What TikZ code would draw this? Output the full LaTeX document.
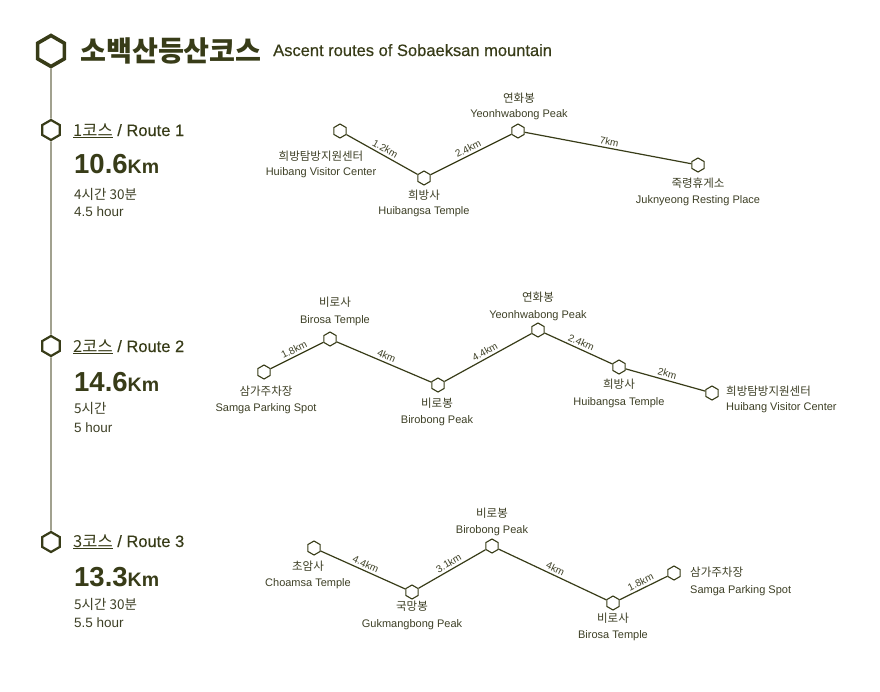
\documentclass[tikz,border=0pt]{standalone}
\usepackage{fontspec}
\setmainfont{Liberation Sans}
\newfontfamily\kr{Noto Sans CJK KR}
\newfontfamily\med[FakeBold=0.4]{Liberation Sans}
\usetikzlibrary{shapes.geometric}
\definecolor{ink}{RGB}{56,60,24}
\definecolor{txt}{RGB}{62,64,38}
\definecolor{vline}{RGB}{112,112,84}
\newcommand{\fs}[1]{\fontsize{#1}{#1}\selectfont}
\begin{document}
\begin{tikzpicture}[x=1pt,y=-1pt,
  hexbase/.style={regular polygon, regular polygon sides=6, rotate=30, inner sep=0pt, draw=ink, fill=white},
  hexs/.style={hexbase, minimum size=14pt, line width=1.1pt},
  hexm/.style={hexbase, minimum size=20pt, line width=2.2pt},
  hexl/.style={hexbase, minimum size=31pt, line width=3.6pt},
  route/.style={draw=ink, line width=1.2pt},
  spine/.style={draw=vline, line width=1.2pt},
  elab/.style={midway, sloped, above, inner sep=2.5pt, text=txt, font=\fs{10}},
  krl/.style={anchor=base, text=txt, font=\kr\fs{11.5}},
  enl/.style={anchor=base, text=txt, font=\fs{11}},
  head/.style={anchor=base west, inner sep=0pt, text=ink, font=\med\fs{16.5}},
  dist/.style={anchor=base west, inner sep=0pt, text=ink},
  tim/.style={anchor=base west, inner sep=0pt, text=txt, font=\fs{13.5}}]
\useasboundingbox (0,0) rectangle (880,691);
\fill[white] (0,0) rectangle (880,691);

% title
\node[hexl] (T) at (51,51) {};
\node[anchor=base west, inner sep=0pt, text=ink, font=\kr\bfseries\fs{28.2}] (tk) at (80,61) {소백산등산코스};
\node[anchor=base west, inner sep=0pt, text=ink, font=\med\fs{16.5}] (te) at (273,56) {Ascent routes of Sobaeksan mountain};

% left column
\node[hexm] (R1) at (51,130) {};
\node[hexm] (R2) at (51,346) {};
\node[hexm] (R3) at (51,542) {};
\draw[spine] (T) -- (R1);
\draw[spine] (R1) -- (R2);
\draw[spine] (R2) -- (R3);

\node[head] (h1) at (73,136) {\underline{{\kr 1코스}} / Route 1};
\node[dist] (d1) at (74,173) {{\bfseries\fs{27.5}10.6}{\bfseries\fs{19.5}Km}};
\node[tim] (t1) at (74,199) {{\kr 4시간 30분}};
\node[tim] (u1) at (74,216) {4.5 hour};

\node[head] (h2) at (73,352) {\underline{{\kr 2코스}} / Route 2};
\node[dist] (d2) at (74,391) {{\bfseries\fs{27.5}14.6}{\bfseries\fs{19.5}Km}};
\node[tim] (t2) at (74,413) {{\kr 5시간}};
\node[tim] (u2) at (74,432) {5 hour};

\node[head] (h3) at (73,547) {\underline{{\kr 3코스}} / Route 3};
\node[dist] (d3) at (74,586) {{\bfseries\fs{27.5}13.3}{\bfseries\fs{19.5}Km}};
\node[tim] (t3) at (74,609) {{\kr 5시간 30분}};
\node[tim] (u3) at (74,627) {5.5 hour};

% route 1
\node[hexs] (A) at (340,131) {};
\node[hexs] (B) at (424,178) {};
\node[hexs] (C) at (518,131) {};
\node[hexs] (D) at (698,165) {};
\draw[route] (A) -- node[elab]{1.2km} (B);
\draw[route] (B) -- node[elab]{2.4km} (C);
\draw[route] (C) -- node[elab]{7km} (D);
\node[krl] (Ak) at (321,160) {희방탐방지원센터};
\node[enl] (Ae) at (321,175) {Huibang Visitor Center};
\node[krl] (Bk) at (424,199) {희방사};
\node[enl] (Be) at (424,214) {Huibangsa Temple};
\node[krl] (Ck) at (519,102) {연화봉};
\node[enl] (Ce) at (519,117) {Yeonhwabong Peak};
\node[krl] (Dk) at (698,187) {죽령휴게소};
\node[enl] (De) at (698,203) {Juknyeong Resting Place};

% route 2
\node[hexs] (E) at (264,372) {};
\node[hexs] (F) at (330,339) {};
\node[hexs] (G) at (438,385) {};
\node[hexs] (H) at (538,330) {};
\node[hexs] (I) at (619,367) {};
\node[hexs] (J) at (712,393) {};
\draw[route] (E) -- node[elab]{1.8km} (F);
\draw[route] (F) -- node[elab]{4km} (G);
\draw[route] (G) -- node[elab]{4.4km} (H);
\draw[route] (H) -- node[elab]{2.4km} (I);
\draw[route] (I) -- node[elab]{2km} (J);
\node[krl] (Ek) at (266,395) {삼가주차장};
\node[enl] (Ee) at (266,411) {Samga Parking Spot};
\node[krl] (Fk) at (335,306) {비로사};
\node[enl] (Fe) at (335,323) {Birosa Temple};
\node[krl] (Gk) at (437,407) {비로봉};
\node[enl] (Ge) at (437,423) {Birobong Peak};
\node[krl] (Hk) at (538,301) {연화봉};
\node[enl] (He) at (538,318) {Yeonhwabong Peak};
\node[krl] (Ik) at (619,388) {희방사};
\node[enl] (Ie) at (619,405) {Huibangsa Temple};
\node[krl, anchor=base west, inner sep=0pt] (Jk) at (726,395) {희방탐방지원센터};
\node[enl, anchor=base west, inner sep=0pt] (Je) at (726,410) {Huibang Visitor Center};

% route 3
\node[hexs] (K) at (314,548) {};
\node[hexs] (L) at (412,592) {};
\node[hexs] (M) at (492,546) {};
\node[hexs] (N) at (613,603) {};
\node[hexs] (O) at (674,573) {};
\draw[route] (K) -- node[elab]{4.4km} (L);
\draw[route] (L) -- node[elab]{3.1km} (M);
\draw[route] (M) -- node[elab]{4km} (N);
\draw[route] (N) -- node[elab]{1.8km} (O);
\node[krl] (Kk) at (308,570) {초암사};
\node[enl] (Ke) at (308,586) {Choamsa Temple};
\node[krl] (Lk) at (412,610) {국망봉};
\node[enl] (Le) at (412,627) {Gukmangbong Peak};
\node[krl] (Mk) at (492,517) {비로봉};
\node[enl] (Me) at (492,533) {Birobong Peak};
\node[krl] (Nk) at (613,622) {비로사};
\node[enl] (Ne) at (613,638) {Birosa Temple};
\node[krl, anchor=base west, inner sep=0pt] (Ok) at (690,576) {삼가주차장};
\node[enl, anchor=base west, inner sep=0pt] (Oe) at (690,593) {Samga Parking Spot};
\end{tikzpicture}
\end{document}
